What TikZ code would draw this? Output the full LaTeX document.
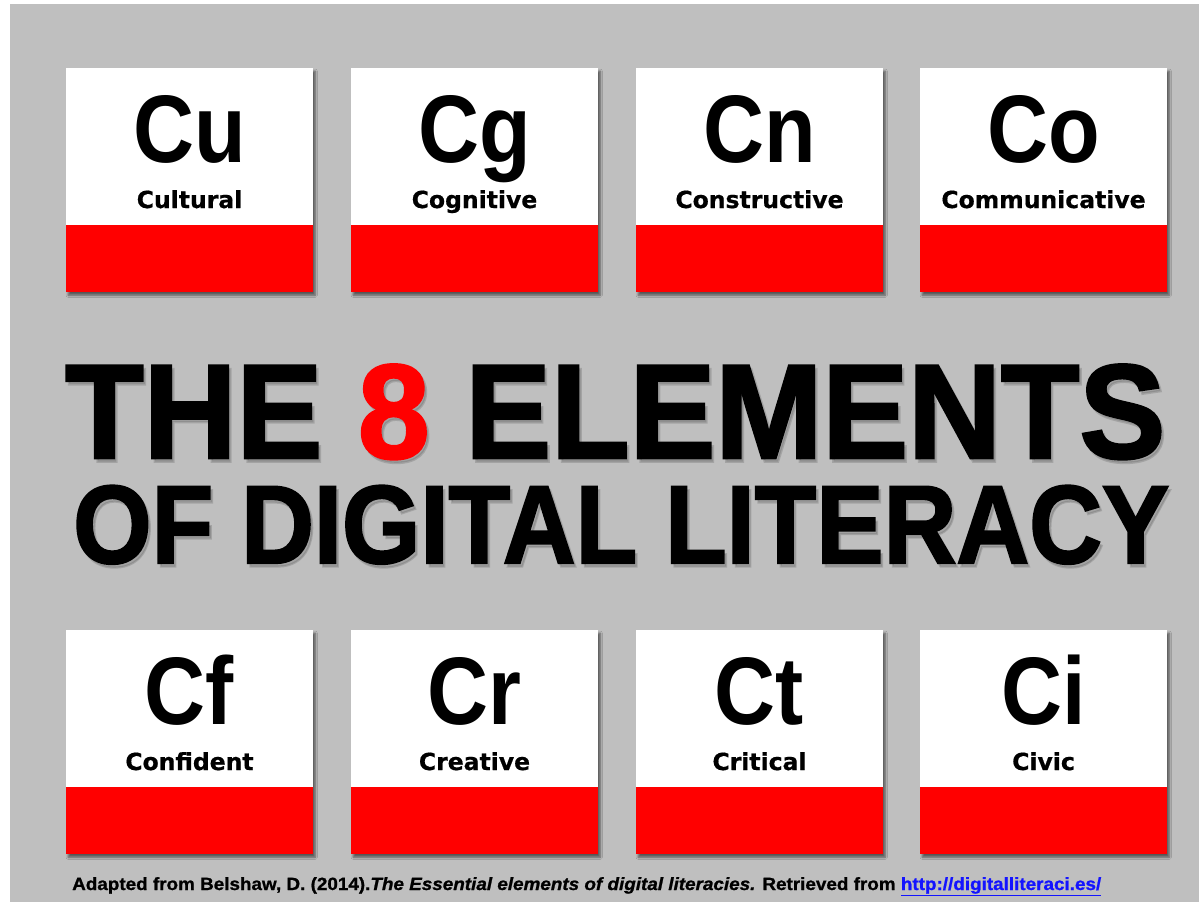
\documentclass[tikz,border=0pt]{standalone}
\usepackage{fontspec}
\usepackage{graphicx}
\usetikzlibrary{shadows.blur}
\setmainfont{Liberation Sans}
\newfontfamily\labfont{DejaVu Sans}[BoldFeatures={FakeBold=0.6}]
\newfontfamily\titlefont{Liberation Sans}[BoldFeatures={FakeBold=2}]
\newfontfamily\footfont{Liberation Sans}[BoldFeatures={FakeBold=1}, BoldItalicFeatures={FakeBold=1}]
\definecolor{bggrey}{RGB}{191,191,191}
\definecolor{tilered}{RGB}{255,0,0}
\definecolor{linkblue}{RGB}{20,20,255}
\definecolor{shadowgrey}{RGB}{100,100,100}
\tikzset{
  tilebox/.style={fill=white, inner sep=0pt, minimum width=247pt, minimum height=224pt, anchor=north west,
    blur shadow={shadow xshift=2pt, shadow yshift=-3pt, shadow blur steps=6, shadow opacity=55}},
  symtext/.style={font=\bfseries\fontsize{96}{96}\selectfont, anchor=base, inner sep=0pt},
  labtext/.style={font=\labfont\bfseries\fontsize{23.5}{24}\selectfont, anchor=base, inner sep=0pt},
  titleA/.style={font=\titlefont\bfseries\fontsize{134}{134}\selectfont, anchor=base west, inner sep=0pt},
  titleB/.style={font=\titlefont\bfseries\fontsize{111}{111}\selectfont, anchor=base west, inner sep=0pt},
  tshadow/.style={text=shadowgrey, opacity=0.3},
  foot/.style={font=\footfont\bfseries\fontsize{17.7}{18}\selectfont, anchor=base west, inner sep=0pt},
}
\newcommand\tile[5]{%
  \node[tilebox] (#1) at (#2,#3) {};
  \fill[tilered] (#2,#3+156.5) rectangle (#2+247,#3+224);
  \node[symtext] (#1s) at (#2+123.5,#3+94) {\scalebox{0.88}[1]{#4}};
  \node[labtext] (#1l) at (#2+123.5,#3+140) {#5};
}
\newcommand\lineA[1]{\resizebox{1100pt}{\height}{THE \textcolor{#1}{8} ELEMENTS}}
\newcommand\lineB{\resizebox{1096pt}{\height}{OF DIGITAL LITERACY}}
\begin{document}
\begin{tikzpicture}[x=1pt,y=-1pt]
\useasboundingbox (0,0) rectangle (1199,902);
\fill[white] (0,0) rectangle (1199,902);
\fill[bggrey] (10,4) rectangle (1199,902);
% top row
\tile{cu}{66}{68}{Cu}{Cultural}
\tile{cg}{351}{68}{Cg}{Cognitive}
\tile{cn}{636}{68}{Cn}{Constructive}
\tile{co}{920}{68}{Co}{Communicative}
% bottom row
\tile{cf}{66}{630}{Cf}{Confident}
\tile{cr}{351}{630}{Cr}{Creative}
\tile{ct}{636}{630}{Ct}{Critical}
\tile{ci}{920}{630}{Ci}{Civic}
% title shadows
\node[titleA, tshadow] (tAs) at (67.5,461.5) {\lineA{shadowgrey}};
\node[titleB, tshadow] (tBs) at (75.5,566.5) {\lineB};
% title
\node[titleA] (tA) at (65,458) {\lineA{tilered}};
\node[titleB] (tB) at (73,563) {\lineB};
% footer
\node[foot] (ft) at (72,890) {\resizebox{1029pt}{\height}{Adapted from Belshaw, D. (2014).\textit{The Essential elements of digital literacies.} Retrieved from \textcolor{linkblue}{\underline{http://digitalliteraci.es/}}}};
\end{tikzpicture}
\end{document}
